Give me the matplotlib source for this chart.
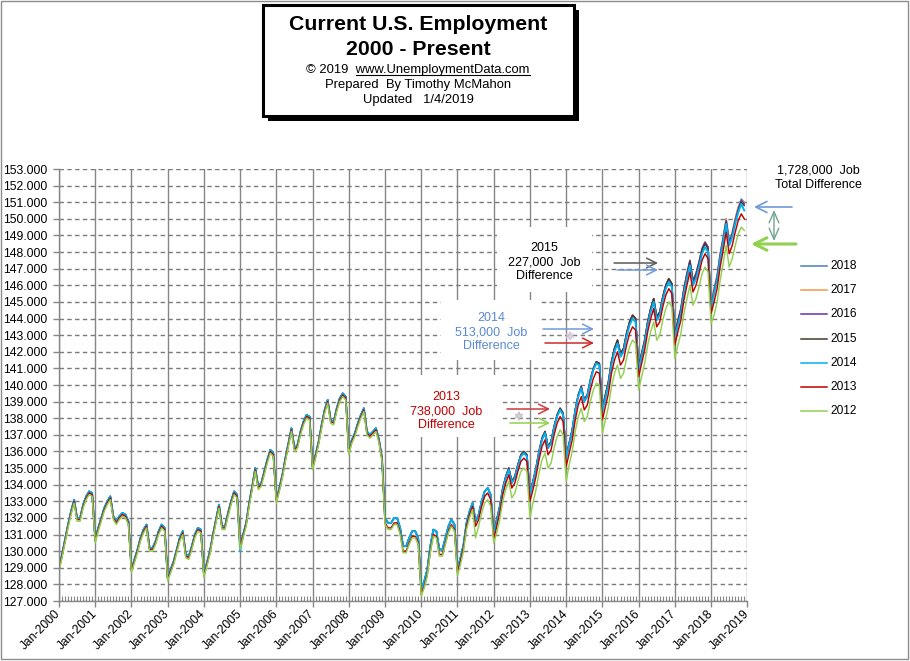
import matplotlib
matplotlib.use("Agg")
import matplotlib.pyplot as plt
from matplotlib.patches import Rectangle, FancyArrowPatch
from matplotlib.lines import Line2D
from matplotlib.ticker import FuncFormatter
import numpy as np

plt.rcParams['font.family'] = ['Liberation Sans', 'DejaVu Sans']

W, H = 910, 661

# ---------------- data (employment, thousands of thousands) ----------------
tick_labels = ["Jan-%d" % y for y in range(2000, 2020)]
series_names = ['2018', '2017', '2016', '2015', '2014', '2013', '2012']
series_colors = ['#4a7ebb', '#f79646', '#7030a0', '#463b2b', '#00b0f0', '#c00000', '#92d050']

emp_2018 = [
    129.0, 129.8, 130.7, 131.6, 132.4, 133.1, 132.0, 132.0, 132.8, 133.3, 133.6, 133.5,
    130.7, 131.4, 132.0, 132.6, 133.0, 133.3, 132.1, 131.8, 132.1, 132.3, 132.2, 131.8,
    128.9, 129.5, 130.1, 130.8, 131.3, 131.6, 130.2, 130.2, 130.6, 131.2, 131.6, 131.4,
    128.4, 128.9, 129.4, 130.1, 130.8, 131.2, 129.8, 129.7, 130.3, 131.0, 131.4, 131.3,
    128.6, 129.3, 130.0, 131.0, 131.9, 132.8, 131.5, 131.5, 132.3, 133.0, 133.6, 133.4,
    130.3, 131.0, 131.7, 132.9, 133.9, 135.0, 133.9, 134.1, 134.8, 135.5, 136.1, 135.9,
    133.1, 133.8, 134.6, 135.6, 136.5, 137.4, 136.2, 136.4, 137.2, 137.8, 138.2, 138.1,
    135.1, 135.8, 136.6, 137.6, 138.5, 139.1, 137.9, 137.8, 138.6, 139.2, 139.5, 139.3,
    136.0, 136.7, 137.1, 137.7, 138.2, 138.6, 137.2, 137.0, 137.2, 137.4, 136.7, 135.6,
    132.0, 131.7, 131.7, 132.0, 132.0, 131.4, 130.3, 130.3, 130.8, 131.2, 131.2, 130.8,
    127.7, 128.2, 128.9, 130.3, 131.3, 131.2, 130.1, 130.1, 130.8, 131.5, 131.9, 131.6,
    128.9, 129.6, 130.4, 131.7, 132.4, 132.9, 131.8, 132.2, 133.0, 133.6, 133.8, 133.4,
    131.1, 131.9, 132.7, 133.8, 134.5, 135.0, 134.2, 134.5, 135.2, 135.8, 136.0, 135.8,
    133.5, 134.2, 135.0, 136.0, 136.8, 137.2, 136.3, 136.6, 137.5, 138.2, 138.6, 138.3,
    135.7, 136.5, 137.3, 138.5, 139.4, 139.9, 139.1, 139.4, 140.3, 141.0, 141.4, 141.3,
    138.6, 139.4, 140.2, 141.4, 142.2, 142.7, 141.9, 142.2, 143.1, 143.8, 144.2, 144.0,
    141.1, 141.9, 142.7, 143.8, 144.6, 145.2, 144.1, 144.4, 145.3, 146.0, 146.4, 146.1,
    143.1, 143.9, 144.6, 145.8, 146.7, 147.5, 146.3, 146.7, 147.4, 148.2, 148.6, 148.3,
    144.9, 145.8, 146.6, 147.9, 148.9, 150.0, 148.7, 149.2, 150.0, 150.7, 151.2, 151.0,
]

emp_2017 = [
    129.0, 129.8, 130.7, 131.6, 132.4, 133.1, 132.0, 132.0, 132.8, 133.3, 133.6, 133.5,
    130.7, 131.4, 132.0, 132.6, 133.0, 133.3, 132.1, 131.8, 132.1, 132.3, 132.2, 131.8,
    128.9, 129.5, 130.1, 130.8, 131.3, 131.6, 130.2, 130.2, 130.6, 131.2, 131.6, 131.4,
    128.4, 128.9, 129.4, 130.1, 130.8, 131.2, 129.8, 129.7, 130.3, 131.0, 131.4, 131.3,
    128.6, 129.3, 130.0, 131.0, 131.9, 132.8, 131.5, 131.5, 132.3, 133.0, 133.6, 133.4,
    130.3, 131.0, 131.7, 132.9, 133.9, 135.0, 133.9, 134.1, 134.8, 135.5, 136.1, 135.9,
    133.1, 133.8, 134.6, 135.6, 136.5, 137.4, 136.2, 136.4, 137.2, 137.8, 138.2, 138.1,
    135.1, 135.8, 136.6, 137.6, 138.5, 139.1, 137.9, 137.8, 138.6, 139.2, 139.5, 139.3,
    136.0, 136.7, 137.1, 137.7, 138.2, 138.6, 137.2, 137.0, 137.2, 137.4, 136.7, 135.6,
    132.0, 131.7, 131.7, 132.0, 132.0, 131.4, 130.3, 130.3, 130.8, 131.2, 131.2, 130.8,
    127.7, 128.2, 128.9, 130.3, 131.3, 131.2, 130.1, 130.1, 130.8, 131.5, 131.9, 131.6,
    128.9, 129.6, 130.4, 131.7, 132.4, 132.9, 131.8, 132.2, 133.0, 133.6, 133.8, 133.4,
    131.1, 131.9, 132.7, 133.8, 134.5, 135.0, 134.2, 134.5, 135.2, 135.8, 136.0, 135.8,
    133.5, 134.2, 135.0, 136.0, 136.8, 137.2, 136.3, 136.6, 137.5, 138.2, 138.6, 138.3,
    135.7, 136.5, 137.3, 138.5, 139.4, 139.9, 139.1, 139.4, 140.3, 141.0, 141.4, 141.3,
    138.6, 139.4, 140.2, 141.4, 142.2, 142.7, 141.9, 142.2, 143.1, 143.8, 144.2, 144.0,
    141.1, 141.9, 142.7, 143.8, 144.6, 145.2, 144.1, 144.4, 145.3, 146.0, 146.4, 146.1,
    143.1, 143.9, 144.6, 145.8, 146.7, 147.5, 146.3, 146.7, 147.4, 148.2, 148.6, 148.3,
    144.9, 145.8, 146.6, 147.9, 148.9, 150.0, 148.7, 149.2, 150.0, 150.7, 151.1, 151.0,
]

emp_2016 = [
    129.0, 129.8, 130.7, 131.6, 132.4, 133.1, 132.0, 132.0, 132.8, 133.3, 133.6, 133.5,
    130.7, 131.4, 132.0, 132.6, 133.0, 133.3, 132.1, 131.8, 132.1, 132.3, 132.2, 131.8,
    128.9, 129.5, 130.1, 130.8, 131.3, 131.6, 130.2, 130.2, 130.6, 131.2, 131.6, 131.4,
    128.4, 128.9, 129.4, 130.1, 130.8, 131.2, 129.8, 129.7, 130.3, 131.0, 131.4, 131.3,
    128.6, 129.3, 130.0, 131.0, 131.9, 132.8, 131.5, 131.5, 132.3, 133.0, 133.6, 133.4,
    130.3, 131.0, 131.7, 132.9, 133.9, 135.0, 133.9, 134.1, 134.8, 135.5, 136.1, 135.9,
    133.1, 133.8, 134.6, 135.6, 136.5, 137.4, 136.2, 136.4, 137.2, 137.8, 138.2, 138.1,
    135.1, 135.8, 136.6, 137.6, 138.5, 139.1, 137.9, 137.8, 138.6, 139.2, 139.5, 139.3,
    136.0, 136.7, 137.1, 137.7, 138.2, 138.6, 137.2, 137.0, 137.2, 137.4, 136.7, 135.6,
    132.0, 131.7, 131.7, 132.0, 132.0, 131.4, 130.3, 130.3, 130.8, 131.2, 131.2, 130.8,
    127.7, 128.2, 128.9, 130.3, 131.3, 131.2, 130.1, 130.1, 130.8, 131.5, 131.9, 131.6,
    128.9, 129.6, 130.4, 131.7, 132.4, 132.9, 131.8, 132.2, 133.0, 133.6, 133.8, 133.4,
    131.1, 131.9, 132.7, 133.8, 134.5, 135.0, 134.2, 134.5, 135.2, 135.8, 136.0, 135.8,
    133.5, 134.2, 135.0, 136.0, 136.8, 137.2, 136.3, 136.6, 137.5, 138.2, 138.6, 138.3,
    135.7, 136.5, 137.3, 138.5, 139.4, 139.9, 139.1, 139.4, 140.3, 141.0, 141.4, 141.3,
    138.6, 139.4, 140.2, 141.4, 142.2, 142.7, 141.9, 142.2, 143.1, 143.8, 144.2, 144.0,
    141.1, 141.9, 142.7, 143.8, 144.6, 145.2, 144.1, 144.4, 145.3, 146.0, 146.4, 146.1,
    143.1, 143.9, 144.6, 145.8, 146.7, 147.5, 146.3, 146.7, 147.4, 148.2, 148.6, 148.3,
    144.8, 145.7, 146.5, 147.8, 148.8, 149.9, 148.6, 149.1, 149.9, 150.6, 151.1, 150.9,
]

emp_2015 = [
    129.0, 129.8, 130.7, 131.6, 132.4, 133.1, 132.0, 132.0, 132.8, 133.3, 133.6, 133.5,
    130.7, 131.4, 132.0, 132.6, 133.0, 133.3, 132.1, 131.8, 132.1, 132.3, 132.2, 131.8,
    128.9, 129.5, 130.1, 130.8, 131.3, 131.6, 130.2, 130.2, 130.6, 131.2, 131.6, 131.4,
    128.4, 128.9, 129.4, 130.1, 130.8, 131.2, 129.8, 129.7, 130.3, 131.0, 131.4, 131.3,
    128.6, 129.3, 130.0, 131.0, 131.9, 132.8, 131.5, 131.5, 132.3, 133.0, 133.6, 133.4,
    130.3, 131.0, 131.7, 132.9, 133.9, 135.0, 133.9, 134.1, 134.8, 135.5, 136.1, 135.9,
    133.1, 133.8, 134.6, 135.6, 136.5, 137.4, 136.2, 136.4, 137.2, 137.8, 138.2, 138.1,
    135.1, 135.8, 136.6, 137.6, 138.5, 139.1, 137.9, 137.8, 138.6, 139.2, 139.5, 139.3,
    136.0, 136.7, 137.1, 137.7, 138.2, 138.6, 137.2, 137.0, 137.2, 137.4, 136.7, 135.6,
    132.0, 131.7, 131.7, 132.0, 132.0, 131.4, 130.3, 130.3, 130.8, 131.2, 131.2, 130.8,
    127.7, 128.2, 128.9, 130.3, 131.3, 131.2, 130.1, 130.1, 130.8, 131.5, 131.9, 131.6,
    128.9, 129.6, 130.4, 131.7, 132.4, 132.9, 131.8, 132.2, 133.0, 133.6, 133.8, 133.4,
    131.1, 131.9, 132.7, 133.8, 134.5, 135.0, 134.2, 134.5, 135.2, 135.8, 136.0, 135.8,
    133.5, 134.2, 135.0, 136.0, 136.8, 137.2, 136.3, 136.6, 137.5, 138.2, 138.6, 138.3,
    135.7, 136.5, 137.3, 138.5, 139.4, 139.9, 139.1, 139.4, 140.3, 141.0, 141.4, 141.3,
    138.6, 139.4, 140.2, 141.4, 142.2, 142.7, 141.9, 142.2, 143.1, 143.8, 144.2, 144.0,
    141.1, 141.9, 142.7, 143.8, 144.6, 145.2, 144.1, 144.4, 145.3, 146.0, 146.4, 146.1,
    143.0, 143.8, 144.5, 145.7, 146.6, 147.4, 146.2, 146.6, 147.3, 148.1, 148.5, 148.2,
    144.7, 145.6, 146.4, 147.7, 148.7, 149.8, 148.5, 149.0, 149.8, 150.5, 151.0, 150.8,
]

emp_2014 = [
    129.0, 129.8, 130.7, 131.6, 132.4, 133.1, 132.0, 132.0, 132.8, 133.3, 133.6, 133.5,
    130.7, 131.4, 132.0, 132.6, 133.0, 133.3, 132.1, 131.8, 132.1, 132.3, 132.2, 131.8,
    128.9, 129.5, 130.1, 130.8, 131.3, 131.6, 130.2, 130.2, 130.6, 131.2, 131.6, 131.4,
    128.4, 128.9, 129.4, 130.1, 130.8, 131.2, 129.8, 129.7, 130.3, 131.0, 131.4, 131.3,
    128.6, 129.3, 130.0, 131.0, 131.9, 132.8, 131.5, 131.5, 132.3, 133.0, 133.6, 133.4,
    130.0, 131.0, 131.7, 132.9, 133.9, 135.0, 133.9, 134.1, 134.8, 135.5, 136.1, 135.9,
    133.1, 133.8, 134.6, 135.6, 136.5, 137.4, 136.2, 136.4, 137.2, 137.8, 138.2, 138.1,
    135.1, 135.8, 136.6, 137.6, 138.5, 139.1, 137.9, 137.8, 138.6, 139.2, 139.5, 139.3,
    136.0, 136.7, 137.1, 137.7, 138.2, 138.6, 137.2, 137.0, 137.2, 137.4, 136.7, 135.6,
    132.0, 131.7, 131.7, 132.0, 132.0, 131.4, 130.3, 130.3, 130.8, 131.2, 131.2, 130.8,
    127.7, 128.2, 128.9, 130.3, 131.3, 131.2, 130.1, 130.1, 130.8, 131.5, 131.9, 131.6,
    128.9, 129.6, 130.4, 131.7, 132.4, 132.9, 131.8, 132.2, 133.0, 133.6, 133.8, 133.4,
    131.0, 131.8, 132.6, 133.7, 134.4, 134.9, 134.1, 134.4, 135.1, 135.7, 135.9, 135.7,
    133.4, 134.1, 134.9, 135.9, 136.7, 137.1, 136.2, 136.5, 137.4, 138.1, 138.5, 138.2,
    135.6, 136.4, 137.2, 138.4, 139.3, 139.8, 139.0, 139.3, 140.2, 140.9, 141.3, 141.2,
    138.4, 139.2, 140.0, 141.2, 142.0, 142.5, 141.7, 142.0, 142.9, 143.6, 144.0, 143.8,
    140.9, 141.7, 142.5, 143.6, 144.4, 145.0, 143.9, 144.2, 145.1, 145.8, 146.2, 145.9,
    142.8, 143.6, 144.3, 145.5, 146.4, 147.2, 146.0, 146.4, 147.1, 147.9, 148.3, 148.0,
    144.6, 145.5, 146.3, 147.6, 148.6, 149.7, 148.4, 148.9, 149.7, 150.4, 150.9, 150.5,
]

emp_2013 = [
    128.9, 129.7, 130.6, 131.5, 132.3, 133.0, 131.9, 131.9, 132.7, 133.2, 133.5, 133.4,
    130.6, 131.3, 131.9, 132.5, 132.9, 133.2, 132.0, 131.7, 132.0, 132.2, 132.1, 131.7,
    128.8, 129.4, 130.0, 130.7, 131.2, 131.5, 130.1, 130.1, 130.5, 131.1, 131.5, 131.3,
    128.3, 128.8, 129.3, 130.0, 130.7, 131.1, 129.7, 129.6, 130.2, 130.9, 131.3, 131.2,
    128.5, 129.2, 129.9, 130.9, 131.8, 132.7, 131.4, 131.4, 132.2, 132.9, 133.5, 133.3,
    130.2, 130.9, 131.6, 132.8, 133.8, 134.9, 133.8, 134.0, 134.7, 135.4, 136.0, 135.8,
    133.0, 133.7, 134.5, 135.5, 136.4, 137.3, 136.1, 136.3, 137.1, 137.7, 138.1, 138.0,
    135.0, 135.7, 136.5, 137.5, 138.4, 139.0, 137.8, 137.7, 138.5, 139.1, 139.4, 139.2,
    135.9, 136.6, 137.0, 137.6, 138.1, 138.5, 137.1, 136.9, 137.1, 137.3, 136.6, 135.5,
    131.7, 131.4, 131.4, 131.7, 131.7, 131.1, 130.0, 130.0, 130.5, 130.9, 130.9, 130.5,
    127.4, 127.9, 128.6, 130.0, 131.0, 130.9, 129.8, 129.8, 130.5, 131.2, 131.6, 131.3,
    128.7, 129.4, 130.2, 131.5, 132.2, 132.7, 131.5, 131.9, 132.7, 133.3, 133.5, 133.1,
    130.7, 131.5, 132.3, 133.4, 134.1, 134.6, 133.8, 134.1, 134.8, 135.4, 135.6, 135.4,
    133.0, 133.7, 134.5, 135.5, 136.3, 136.7, 135.8, 136.1, 137.0, 137.7, 138.1, 137.8,
    135.1, 135.9, 136.7, 137.9, 138.8, 139.3, 138.5, 138.8, 139.7, 140.4, 140.8, 140.7,
    137.9, 138.7, 139.5, 140.7, 141.5, 142.0, 141.2, 141.5, 142.4, 143.1, 143.5, 143.3,
    140.5, 141.3, 142.1, 143.2, 144.0, 144.6, 143.5, 143.8, 144.7, 145.4, 145.8, 145.5,
    142.4, 143.2, 143.9, 145.1, 146.0, 146.8, 145.6, 146.0, 146.7, 147.5, 147.9, 147.6,
    144.3, 145.0, 145.8, 147.1, 148.1, 149.2, 147.9, 148.4, 149.2, 149.9, 150.3, 150.0,
]

emp_2012 = [
    128.8, 129.6, 130.5, 131.4, 132.2, 132.9, 131.8, 131.8, 132.6, 133.1, 133.4, 133.3,
    130.5, 131.2, 131.8, 132.4, 132.8, 133.1, 131.9, 131.6, 131.9, 132.1, 132.0, 131.6,
    128.7, 129.3, 129.9, 130.6, 131.1, 131.4, 130.0, 130.0, 130.4, 131.0, 131.4, 131.2,
    128.2, 128.7, 129.2, 129.9, 130.6, 131.0, 129.6, 129.5, 130.1, 130.8, 131.2, 131.1,
    128.4, 129.1, 129.8, 130.8, 131.7, 132.6, 131.3, 131.3, 132.1, 132.8, 133.4, 133.2,
    130.1, 130.8, 131.5, 132.7, 133.7, 134.8, 133.7, 133.9, 134.6, 135.3, 135.9, 135.7,
    132.9, 133.6, 134.4, 135.4, 136.3, 137.2, 136.0, 136.2, 137.0, 137.6, 138.0, 137.9,
    134.9, 135.6, 136.4, 137.4, 138.3, 138.9, 137.7, 137.6, 138.4, 139.0, 139.3, 139.1,
    135.8, 136.5, 136.9, 137.5, 138.0, 138.4, 137.0, 136.8, 137.0, 137.2, 136.5, 135.4,
    131.6, 131.3, 131.3, 131.6, 131.6, 131.0, 129.9, 129.9, 130.4, 130.8, 130.8, 130.4,
    127.3, 127.8, 128.5, 129.9, 130.9, 130.8, 129.7, 129.7, 130.4, 131.1, 131.5, 131.2,
    128.5, 129.2, 130.0, 131.3, 132.0, 132.5, 130.8, 131.5, 132.3, 132.9, 133.1, 132.7,
    130.5, 131.1, 131.9, 133.0, 133.7, 134.2, 133.2, 133.5, 134.2, 134.8, 135.0, 134.8,
    132.0, 132.9, 133.7, 134.7, 135.5, 135.9, 135.0, 135.3, 136.2, 136.9, 137.3, 137.0,
    134.2, 135.2, 136.0, 137.2, 138.1, 138.6, 137.8, 138.1, 139.0, 139.7, 140.1, 140.0,
    137.1, 137.9, 138.7, 139.9, 140.7, 141.2, 140.4, 140.7, 141.6, 142.3, 142.7, 142.5,
    139.7, 140.5, 141.3, 142.4, 143.2, 143.8, 142.7, 143.0, 143.9, 144.6, 145.0, 144.7,
    141.6, 142.4, 143.1, 144.3, 145.2, 146.0, 144.8, 145.2, 145.9, 146.7, 147.1, 146.8,
    143.7, 144.2, 145.0, 146.3, 147.3, 148.4, 147.1, 147.6, 148.4, 149.1, 149.5, 149.3,
]

all_series = [emp_2018, emp_2017, emp_2016, emp_2015, emp_2014, emp_2013, emp_2012]
series_widths = [1.05, 1.05, 1.05, 1.05, 1.4, 1.05, 1.05]

# ---------------- figure ----------------
def fx(x):
    return x / W

def fy(y):
    return 1 - y / H

fig = plt.figure(figsize=(W / 100, H / 100), dpi=100, facecolor='white')

x_left, x_right, y_top, y_bot = 59, 747.3, 169, 601
ax = fig.add_axes([fx(x_left), fy(y_bot), (x_right - x_left) / W, (y_bot - y_top) / H])
ax.set_facecolor('white')

gray = '#868686'
for name, vals, col, lw in zip(series_names, all_series, series_colors, series_widths):
    ax.plot(np.arange(len(vals)), vals, color=col, lw=lw, zorder=2, solid_joinstyle='round')

ax.set_xlim(0, 228)
ax.set_ylim(127, 153)
ax.set_axisbelow(True)

ax.set_xticks(np.arange(0, 229, 12))
ax.set_xticklabels(tick_labels, rotation=45, ha='right', va='center', rotation_mode='anchor', fontsize=8.7)
ax.set_xticks(np.arange(0, 229, 1), minor=True)
ax.tick_params(axis='x', which='major', direction='out', length=4, width=1, color=gray, pad=4)
ax.tick_params(axis='x', which='minor', direction='in', length=3.5, width=0.8, color=gray)

ax.set_yticks(np.arange(127, 154, 1))
ax.yaxis.set_major_formatter(FuncFormatter(lambda v, p: "%.3f" % v))
ax.tick_params(axis='y', which='major', direction='out', length=4.5, width=1, color=gray, pad=4, labelsize=8.8)

ax.yaxis.grid(True, color='#7a7a7a', linestyle=(0, (3.2, 2.4)), lw=1.0)
ax.xaxis.grid(True, which='major', color=gray, linestyle='-', lw=1.0)

for s in ['top', 'right']:
    ax.spines[s].set_visible(False)
for s in ['left', 'bottom']:
    ax.spines[s].set_color(gray)
    ax.spines[s].set_linewidth(1.0)
    ax.spines[s].set_zorder(3)

# white patches behind annotation texts (hide gridlines)
for (bx0, by0, bx1, by1) in [(497, 227, 592, 292), (441, 300, 541, 360), (400, 375, 500, 437)]:
    ax.add_patch(Rectangle((fx(bx0), fy(by1)), (bx1 - bx0) / W, (by1 - by0) / H,
                           transform=fig.transFigure, facecolor='white', edgecolor='none', zorder=1))

# ---------------- title box ----------------
fig.add_artist(Rectangle((fx(268), fy(121)), 311 / W, 111 / H, transform=fig.transFigure,
                         facecolor='black', edgecolor='none', zorder=5))
fig.add_artist(Rectangle((fx(263), fy(116)), 311 / W, 111 / H, transform=fig.transFigure,
                         facecolor='white', edgecolor='black', lw=2.2, zorder=6))
cx = 418
fig.text(fx(cx), fy(30), "Current U.S. Employment", ha='center', va='baseline',
         fontsize=15.3, fontweight='bold', zorder=7)
fig.text(fx(cx), fy(55), "2000 - Present", ha='center', va='baseline',
         fontsize=15.3, fontweight='bold', zorder=7)
t_url = fig.text(fx(cx), fy(73), "\u00a9 2019  www.UnemploymentData.com", ha='center', va='baseline',
                 fontsize=9.4, zorder=7)
fig.text(fx(cx), fy(88), "Prepared  By Timothy McMahon", ha='center', va='baseline', fontsize=9.4, zorder=7)
fig.text(fx(cx), fy(103), "Updated   1/4/2019", ha='center', va='baseline', fontsize=9.4, zorder=7)

fig.canvas.draw()
r = fig.canvas.get_renderer()
bb = t_url.get_window_extent(r)
tmp = fig.text(0, 0, "www.UnemploymentData.com", fontsize=9.4)
wurl = tmp.get_window_extent(r).width
tmp.remove()
fig.add_artist(Line2D([(bb.x1 - wurl) / W, bb.x1 / W], [fy(74.8), fy(74.8)], transform=fig.transFigure,
                      color='black', lw=0.8, zorder=7))

# ---------------- annotations (y = baseline of the last line) ----------------
fig.text(fx(818), fy(187.5), "1,728,000  Job\nTotal Difference", ha='center', va='baseline',
         multialignment='center', fontsize=9, zorder=7)
fig.text(fx(544), fy(279), "2015\n227,000  Job\nDifference", ha='center', va='baseline',
         multialignment='center', fontsize=9, color='black', zorder=7)
fig.text(fx(491), fy(349), "2014\n513,000  Job\nDifference", ha='center', va='baseline',
         multialignment='center', fontsize=9, color='#5a8ad2', zorder=7)
fig.text(fx(446), fy(428), "2013\n738,000  Job\nDifference", ha='center', va='baseline',
         multialignment='center', fontsize=9, color='#c00000', zorder=7)


def arrow(x0, y0, x1, y1, color, lw=1.1, style='->', hl=0.7, hw=0.35):
    fig.add_artist(FancyArrowPatch((fx(x0), fy(y0)), (fx(x1), fy(y1)), transform=fig.transFigure,
                                   arrowstyle='%s,head_length=%s,head_width=%s' % (style, hl, hw),
                                   mutation_scale=10, color=color, lw=lw, zorder=7,
                                   shrinkA=0, shrinkB=0))

arrow(614, 263, 658, 263, '#5a5a5a')
arrow(617, 270, 658, 270, '#6f9ad8')
arrow(543, 329, 594, 329, '#6f9ad8')
arrow(545, 343, 594, 343, '#d02828')
arrow(570, 331, 570, 341, '#d6c6dc', lw=1.0, style='<->', hl=0.4, hw=0.25)
arrow(507, 409, 550, 409, '#cc3b3b')
arrow(510, 423, 550, 423, '#92d050')
arrow(519, 411, 519, 421, '#c8c0c8', lw=1.0, style='<->', hl=0.4, hw=0.25)

arrow(792, 207, 754, 207, '#6f9ad8', lw=1.2, hl=0.8, hw=0.4)
arrow(796, 244, 751, 244, '#92d050', lw=2.2, hl=0.9, hw=0.45)
arrow(774, 210, 774, 241, '#6ea48e', lw=1.0, style='<->', hl=0.8, hw=0.35)

# ---------------- legend ----------------
leg_y = [266, 290.2, 314.4, 338.6, 362.8, 387, 411.2]
for name, col, yy in zip(series_names, series_colors, leg_y):
    fig.add_artist(Line2D([fx(801), fx(827)], [fy(yy), fy(yy)], transform=fig.transFigure,
                          color=col, lw=1.1, zorder=7))
    fig.text(fx(830), fy(yy), name, ha='left', va='center', fontsize=8.6, zorder=7)

# ---------------- outer border ----------------
fig.add_artist(Rectangle((fx(0.6), fy(659.2)), 907.6 / W, 658.6 / H, transform=fig.transFigure,
                         facecolor='none', edgecolor='#8c8c8c', lw=1.0, zorder=8))

fig.savefig('out.png', dpi=100, facecolor='white')
